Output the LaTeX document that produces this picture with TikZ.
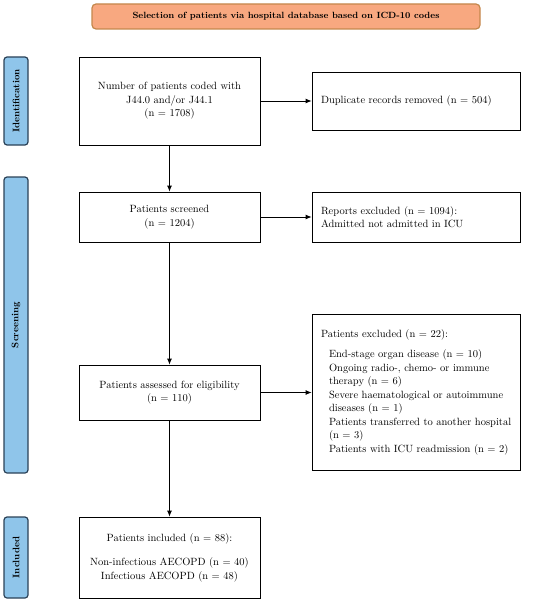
\documentclass[tikz,border=0pt]{standalone}
\usetikzlibrary{arrows.meta}
\begin{document}
\begin{tikzpicture}[x=1pt,y=-1pt,
  box/.style={draw=black,line width=0.8pt,fill=white,inner sep=0pt,font=\fontsize{10.5}{13.5}\selectfont},
  lbox/.style={box,align=left,text width=190pt,execute at begin node={\hyphenpenalty=10000\exhyphenpenalty=10000\hbadness=10000\hfuzz=20pt}},
  cbox/.style={box,align=center},
  phase/.style={draw=phaseborder,line width=1.2pt,fill=phasefill,rounded corners=3pt,inner sep=0pt,minimum width=24pt},
  phasetext/.style={rotate=90,font=\fontsize{9.5}{10}\selectfont\bfseries},
  arr/.style={line width=0.8pt,-{Latex[length=6pt,width=5pt]}}]
\definecolor{phasefill}{HTML}{8FC5EA}
\definecolor{phaseborder}{HTML}{2B4258}
\definecolor{bannerfill}{HTML}{F8A880}
\definecolor{bannerborder}{HTML}{C4874C}
\useasboundingbox (0,0) rectangle (550,602);
% banner
\node[draw=bannerborder,line width=1.2pt,fill=bannerfill,rounded corners=4pt,minimum width=388pt,minimum height=25pt,inner sep=0pt,font=\fontsize{9}{10}\selectfont\bfseries] (banner) at (286,16.5) {Selection of patients via hospital database based on ICD-10 codes};
% phase bars
\node[phase,minimum height=88pt] (pid) at (16,101) {};
\node[phasetext] (tid) at (pid) {Identification};
\node[phase,minimum height=296pt] (pscr) at (16,325) {};
\node[phasetext] (tscr) at (pscr) {Screening};
\node[phase,minimum height=81pt] (pinc) at (16,557.5) {};
\node[phasetext] (tinc) at (pinc) {Included};
% main boxes
\node[cbox,minimum width=181pt,minimum height=88pt] (coded) at (169.5,101) {Number of patients coded with\\J44.0 and/or J44.1\\(n = 1708)};
\node[cbox,minimum width=181pt,minimum height=50pt] (screened) at (169.5,217) {Patients screened\\(n = 1204)};
\node[cbox,minimum width=181pt,minimum height=55pt] (elig) at (169.5,392.5) {Patients assessed for eligibility\\(n = 110)};
\node[cbox,minimum width=181pt,minimum height=81pt] (incl) at (169.5,557.5) {Patients included (n = 88):\\[11pt]Non-infectious AECOPD (n = 40)\\Infectious AECOPD (n = 48)};
% side boxes
\node[lbox,minimum width=208pt,minimum height=58pt] (dup) at (416,101) {Duplicate records removed (n = 504)};
\node[lbox,minimum width=208pt,minimum height=50pt] (rep) at (416,217) {Reports excluded (n = 1094):\\Admitted not admitted in ICU};
\node[lbox,minimum width=208pt,minimum height=156pt] (excl) at (416,392) {Patients excluded (n = 22):\\[7pt]
\hspace*{8pt}End-stage organ disease (n = 10)\\
\hspace*{8pt}Ongoing radio-, chemo- or immune\\
\hspace*{8pt}therapy (n = 6)\\
\hspace*{8pt}Severe haematological or autoimmune\\
\hspace*{8pt}diseases (n = 1)\\
\hspace*{8pt}\mbox{Patients transferred to another hospital}\\
\hspace*{8pt}(n = 3)\\
\hspace*{8pt}Patients with ICU readmission (n = 2)};
% arrows
\draw[arr] (coded) -- (screened);
\draw[arr] (screened) -- (elig);
\draw[arr] (elig) -- (incl);
\draw[arr] (coded.east) -- (dup.west);
\draw[arr] (screened.east) -- (rep.west);
\draw[arr] (elig.east) -- (excl.west |- elig.east);
\end{tikzpicture}
\end{document}
